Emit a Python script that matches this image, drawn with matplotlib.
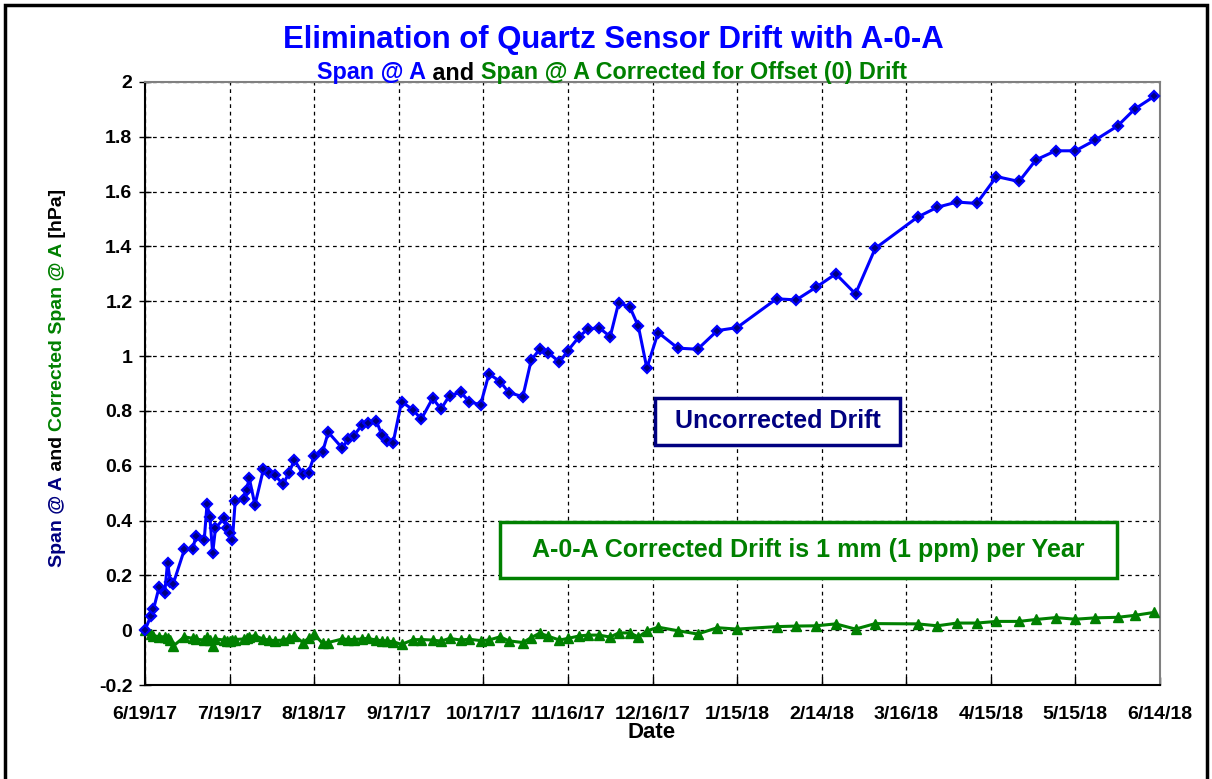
import numpy as np
import matplotlib
matplotlib.use("Agg")
import matplotlib.pyplot as plt
from matplotlib.patches import Rectangle
from matplotlib.ticker import FuncFormatter
import datetime as dt

# ---------------- data ----------------
start_date = "2017-06-19"
day_offsets = [0, 2, 3, 5, 7, 8, 9, 10, 14, 17, 18, 21, 22, 23, 24, 25, 28, 29, 30, 31,
               32, 35, 36, 37, 39, 42, 44, 46, 49, 51, 53, 56, 58, 60, 63, 65, 70, 72, 74, 77,
               79, 82, 84, 86, 88, 91, 95, 98, 102, 105, 108, 112, 115, 119, 122, 126, 129, 134, 137, 140,
               143, 147, 150, 154, 157, 161, 165, 168, 172, 175, 178, 182, 189, 196, 203, 210, 224, 231, 238, 245,
               252, 259, 274, 281, 288, 295, 302, 310, 316, 323, 330, 337, 345, 351, 358]
span_a = [0.000, 0.050, 0.076, 0.157, 0.137, 0.246, 0.177, 0.169, 0.295, 0.295,
          0.344, 0.329, 0.459, 0.414, 0.281, 0.372, 0.408, 0.372, 0.354, 0.329,
          0.471, 0.478, 0.512, 0.554, 0.457, 0.587, 0.575, 0.566, 0.532, 0.573,
          0.621, 0.570, 0.575, 0.636, 0.651, 0.722, 0.664, 0.697, 0.709, 0.749,
          0.755, 0.765, 0.712, 0.692, 0.684, 0.834, 0.804, 0.770, 0.846, 0.807,
          0.856, 0.868, 0.834, 0.822, 0.935, 0.907, 0.867, 0.852, 0.986, 1.025,
          1.013, 0.978, 1.020, 1.071, 1.098, 1.104, 1.071, 1.195, 1.178, 1.108,
          0.956, 1.086, 1.029, 1.025, 1.093, 1.104, 1.209, 1.205, 1.251, 1.300,
          1.227, 1.393, 1.507, 1.543, 1.562, 1.557, 1.655, 1.637, 1.716, 1.749,
          1.749, 1.788, 1.840, 1.901, 1.948]
span_a_corrected = [0.000, -0.015, -0.020, -0.024, -0.024, -0.030, -0.035, -0.058, -0.024, -0.030,
                    -0.033, -0.036, -0.024, -0.035, -0.058, -0.032, -0.036, -0.038, -0.040, -0.036,
                    -0.034, -0.032, -0.030, -0.024, -0.020, -0.033, -0.036, -0.038, -0.036, -0.030,
                    -0.020, -0.045, -0.030, -0.015, -0.048, -0.045, -0.032, -0.034, -0.034, -0.032,
                    -0.030, -0.036, -0.038, -0.040, -0.042, -0.052, -0.035, -0.034, -0.036, -0.040,
                    -0.030, -0.036, -0.033, -0.038, -0.036, -0.024, -0.039, -0.045, -0.027, -0.011,
                    -0.022, -0.036, -0.030, -0.021, -0.018, -0.018, -0.025, -0.010, -0.010, -0.025,
                    -0.003, 0.011, -0.002, -0.014, 0.009, 0.004, 0.013, 0.015, 0.016, 0.023,
                    0.004, 0.024, 0.023, 0.016, 0.026, 0.026, 0.032, 0.032, 0.039, 0.046,
                    0.040, 0.045, 0.047, 0.054, 0.065]
tick_dates = ["2017-06-19", "2017-07-19", "2017-08-18", "2017-09-17", "2017-10-17",
              "2017-11-16", "2017-12-16", "2018-01-15", "2018-02-14", "2018-03-16",
              "2018-04-15", "2018-05-15", "2018-06-14"]
y_ticks = [-0.2, 0, 0.2, 0.4, 0.6, 0.8, 1, 1.2, 1.4, 1.6, 1.8, 2]

# ---------------- styling ----------------
plt.rcParams['font.family'] = ['Liberation Sans', 'DejaVu Sans']
BLUE = '#0000FF'
NAVY = '#000080'
GREEN = '#008000'
W, H = 1212, 779

t0 = dt.datetime.strptime(start_date, "%Y-%m-%d")
dates = [t0 + dt.timedelta(days=d) for d in day_offsets]
ticks = [dt.datetime.strptime(s, "%Y-%m-%d") for s in tick_dates]

fig = plt.figure(figsize=(W / 100, H / 100), dpi=100)
ax = fig.add_axes([145 / W, 1 - 685 / H, 1015 / W, 603 / H])

ax.plot(dates, span_a, color=BLUE, lw=2.2, marker='D', ms=5.5,
        mfc=NAVY, mec=BLUE, mew=1.6, zorder=5, clip_on=False)
ax.plot(dates, span_a_corrected, color=GREEN, lw=2.2, marker='^', ms=7.5,
        mfc=GREEN, mec=GREEN, zorder=4, clip_on=False)

ax.set_xlim(ticks[0], ticks[-1])
ax.set_ylim(-0.2, 2)
ax.set_xticks(ticks)
ax.set_xticklabels([f"{d.month}/{d.day}/{d.strftime('%y')}" for d in ticks])
ax.set_yticks(y_ticks)
ax.yaxis.set_major_formatter(FuncFormatter(lambda v, p: f"{v:g}"))

ax.grid(True, color='black', linestyle=(0, (3, 3)), linewidth=0.9, zorder=1)
ax.set_axisbelow(True)
for side in ['top', 'right']:
    ax.spines[side].set_color('#808080')
    ax.spines[side].set_linewidth(1.5)
for side in ['left', 'bottom']:
    ax.spines[side].set_color('black')
    ax.spines[side].set_linewidth(1.5)

ax.tick_params(axis='y', direction='inout', length=8, width=1, pad=5, labelsize=14)
ax.tick_params(axis='x', direction='in', length=6, width=1, pad=15, labelsize=14)
for lab in ax.get_xticklabels() + ax.get_yticklabels():
    lab.set_fontweight('bold')

# x label
fig.text(652 / W, 1 - 733 / H, "Date", ha='center', va='center', fontsize=16, fontweight='bold')

# title
fig.text(613 / W, 1 - 40 / H, "Elimination of Quartz Sensor Drift with A-0-A",
         ha='center', va='center', fontsize=22.4, fontweight='bold', color=BLUE)

renderer = fig.canvas.get_renderer()


def measure(parts, fontsize):
    ws = []
    for s, c in parts:
        t = fig.text(0, 0, s, fontsize=fontsize, fontweight='bold')
        ws.append(t.get_window_extent(renderer=renderer).width)
        t.remove()
    return ws


# subtitle (multi-coloured)
sub_parts = [("Span @ A", BLUE), (" and ", 'black'),
             ("Span @ A Corrected for Offset (0) Drift", GREEN)]
sub_fs = 16.8
ws = measure(sub_parts, sub_fs)
xpos = 612 - sum(ws) / 2
for (s, c), w in zip(sub_parts, ws):
    fig.text(xpos / W, 1 - 73 / H, s, fontsize=sub_fs, fontweight='bold', color=c,
             ha='left', va='center')
    xpos += w

# y label (rotated, multi-coloured)
y_parts = [("Span @ A", NAVY), (" and ", 'black'), ("Corrected Span @ A", GREEN), (" [hPa]", 'black')]
y_fs = 14
ws = measure(y_parts, y_fs)
ypos = 378 + sum(ws) / 2  # pixels from top, start (bottom) of the text
for (s, c), w in zip(y_parts, ws):
    fig.text(57 / W, 1 - ypos / H, s, fontsize=y_fs, fontweight='bold', color=c,
             rotation=90, rotation_mode='anchor', ha='left', va='center')
    ypos -= w

# annotation boxes
ax.add_patch(Rectangle((0.5025, 0.398), 0.7438 - 0.5025, 0.476 - 0.398, transform=ax.transAxes,
                       facecolor='white', edgecolor=NAVY, lw=2.5, zorder=3))
ax.text((0.5025 + 0.7438) / 2, (0.398 + 0.476) / 2, "Uncorrected Drift", transform=ax.transAxes,
        ha='center', va='center', fontsize=18, fontweight='bold', color=NAVY, zorder=6)
ax.add_patch(Rectangle((0.3498, 0.1774), 0.9576 - 0.3498, 0.2703 - 0.1774, transform=ax.transAxes,
                       facecolor='white', edgecolor=GREEN, lw=2.5, zorder=3))
ax.text((0.3498 + 0.9576) / 2, (0.1774 + 0.2703) / 2, "A-0-A Corrected Drift is 1 mm (1 ppm) per Year",
        transform=ax.transAxes, ha='center', va='center', fontsize=18, fontweight='bold',
        color=GREEN, zorder=6)

# outer border
fig.patches.append(Rectangle((5 / W, -0.05), 1202 / W, 1.05 - 5 / H, transform=fig.transFigure,
                             fill=False, edgecolor='black', lw=2.5))

fig.savefig("out.png", dpi=100)
